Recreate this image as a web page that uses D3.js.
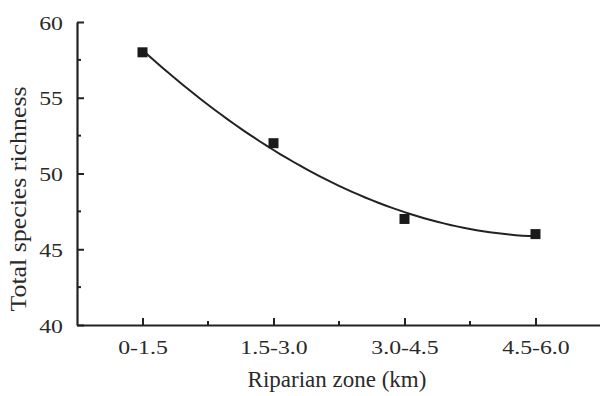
<!DOCTYPE html>
<html>
<head>
<meta charset="utf-8">
<script src="https://cdn.jsdelivr.net/npm/d3@7"></script>
<style>
  body { margin: 0; background: #fff; }
  text { font-family: "Liberation Serif", "Times New Roman", serif; fill: #2a2a2a; }
</style>
</head>
<body>
<div id="chart"></div>
<script>
// Data.
const zones = ['0-1.5', '1.5-3.0', '3.0-4.5', '4.5-6.0']
const richness = [58, 52, 47, 46]
const yTicks = [40, 45, 50, 55, 60]
const yMinorTicks = [42.5, 47.5, 52.5, 57.5]
const xMinorTicks = [1.5, 2.5, 3.5, 4.5]

const width = 600
const height = 396
const ink = '#222'
const serif = '"Liberation Serif", "Times New Roman", serif'

const svg = d3.select('#chart')
  .append('svg')
  .attr('width', width)
  .attr('height', height)

// Scales. Zones sit at positions 1..4, axis runs half a step either side.
const x = d3.scaleLinear().domain([0.5, 4.5]).range([77, 601])
const y = d3.scaleLinear().domain([40, 60]).range([325, 22])

const points = zones.map((z, i) => ({ zone: z, pos: i + 1, value: richness[i] }))

// Quadratic least-squares fit of the points (the curve drawn in the figure).
function quadFit(data) {
  const n = data.length
  let sx = 0, sx2 = 0, sx3 = 0, sx4 = 0, sy = 0, sxy = 0, sx2y = 0
  data.forEach(d => {
    const a = d.pos, b = d.value
    sx += a; sx2 += a * a; sx3 += a ** 3; sx4 += a ** 4
    sy += b; sxy += a * b; sx2y += a * a * b
  })
  // Solve 3x3 normal equations with Cramer's rule.
  const det = m => m[0][0] * (m[1][1] * m[2][2] - m[1][2] * m[2][1])
    - m[0][1] * (m[1][0] * m[2][2] - m[1][2] * m[2][0])
    + m[0][2] * (m[1][0] * m[2][1] - m[1][1] * m[2][0])
  const M = [[n, sx, sx2], [sx, sx2, sx3], [sx2, sx3, sx4]]
  const r = [sy, sxy, sx2y]
  const D = det(M)
  const coef = [0, 1, 2].map(k => det(M.map((row, i) => row.map((v, j) => j === k ? r[i] : v))) / D)
  return t => coef[0] + coef[1] * t + coef[2] * t * t
}
const fit = quadFit(points)
const fitLine = d3.range(1, 4.0001, 0.05).map(t => [t, fit(t)])

// Axes
const yAxis = svg.append('g')
  .attr('transform', `translate(${x(0.5)},0)`)
  .call(d3.axisLeft(y).tickValues(yTicks).tickSizeInner(-7).tickSizeOuter(0).tickPadding(14))
yAxis.append('g')
  .selectAll('line')
  .data(yMinorTicks)
  .join('line')
  .attr('x1', 0).attr('x2', 4)
  .attr('y1', d => y(d)).attr('y2', d => y(d))

const xAxis = svg.append('g')
  .attr('transform', `translate(0,${y(40)})`)
  .call(d3.axisBottom(x).tickValues([1, 2, 3, 4]).tickSizeInner(-7).tickSizeOuter(0).tickPadding(15)
    .tickFormat(d => zones[d - 1]))
xAxis.append('g')
  .selectAll('line')
  .data(xMinorTicks)
  .join('line')
  .attr('y1', 0).attr('y2', -4)
  .attr('x1', d => x(d)).attr('x2', d => x(d))

svg.selectAll('.domain').attr('stroke', ink).attr('stroke-width', 2.2)
svg.selectAll('g line').attr('stroke', ink).attr('stroke-width', 2)

// Tick labels: the original font is a touch wider than Times.
yAxis.attr('font-family', serif)
xAxis.attr('font-family', serif)
svg.selectAll('.tick text')
  .attr('font-size', 19.5)
  .attr('fill', '#2a2a2a')
  .each(function () {
    const len = this.getComputedTextLength()
    d3.select(this).attr('textLength', len * 1.22).attr('lengthAdjust', 'spacingAndGlyphs')
  })
yAxis.selectAll('.tick text').attr('dy', '0.36em')

// Fitted curve
svg.append('path')
  .datum(fitLine)
  .attr('fill', 'none')
  .attr('stroke', ink)
  .attr('stroke-width', 2)
  .attr('d', d3.line().x(d => x(d[0])).y(d => y(d[1])))

// Markers
svg.selectAll('.marker')
  .data(points)
  .join('rect')
  .attr('class', 'marker')
  .attr('x', d => x(d.pos) - 5)
  .attr('y', d => y(d.value) - 5)
  .attr('width', 10)
  .attr('height', 10)
  .attr('fill', '#1a1a1a')

// Axis titles
svg.append('text')
  .attr('x', 337)
  .attr('y', 387)
  .attr('text-anchor', 'middle')
  .attr('font-size', 23)
  .text('Riparian zone (km)')

svg.append('text')
  .attr('transform', 'translate(26,199) rotate(-90)')
  .attr('text-anchor', 'middle')
  .attr('font-size', 24)
  .attr('textLength', 225)
  .attr('lengthAdjust', 'spacingAndGlyphs')
  .text('Total species richness')
</script>
</body>
</html>
